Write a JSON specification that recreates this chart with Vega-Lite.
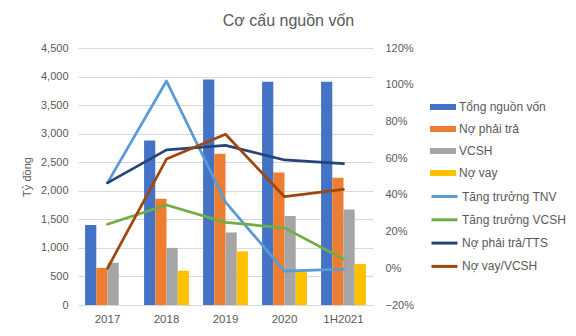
{
  "$schema": "https://vega.github.io/schema/vega-lite/v6.json",
  "width": 295,
  "height": 257,
  "autosize": {"type": "none"},
  "padding": {"left": 78, "top": 48, "right": 203, "bottom": 31},
  "background": "white",
  "title": {
    "text": "Cơ cấu nguồn vốn",
    "fontSize": 16,
    "font": "Liberation Sans",
    "fontWeight": "normal",
    "color": "#595959",
    "anchor": "middle",
    "frame": "group",
    "dx": 63,
    "baseline": "alphabetic",
    "offset": 0
  },
  "config": {
    "view": {"stroke": null},
    "font": "Liberation Sans",
    "axis": {"labelColor": "#595959", "titleColor": "#595959", "labelFont": "Liberation Sans", "titleFont": "Liberation Sans"},
    "legend": {"labelFont": "Liberation Sans"}
  },
  "datasets": {
    "bars": [
      {"year": "2017", "series": "Tổng nguồn vốn", "value": 1400},
      {"year": "2017", "series": "Nợ phải trả", "value": 650},
      {"year": "2017", "series": "VCSH", "value": 740},
      {"year": "2017", "series": "Nợ vay", "value": 0},
      {"year": "2018", "series": "Tổng nguồn vốn", "value": 2880},
      {"year": "2018", "series": "Nợ phải trả", "value": 1860},
      {"year": "2018", "series": "VCSH", "value": 1000},
      {"year": "2018", "series": "Nợ vay", "value": 600},
      {"year": "2019", "series": "Tổng nguồn vốn", "value": 3950},
      {"year": "2019", "series": "Nợ phải trả", "value": 2650},
      {"year": "2019", "series": "VCSH", "value": 1270},
      {"year": "2019", "series": "Nợ vay", "value": 940},
      {"year": "2020", "series": "Tổng nguồn vốn", "value": 3910},
      {"year": "2020", "series": "Nợ phải trả", "value": 2320},
      {"year": "2020", "series": "VCSH", "value": 1560},
      {"year": "2020", "series": "Nợ vay", "value": 610},
      {"year": "1H2021", "series": "Tổng nguồn vốn", "value": 3910},
      {"year": "1H2021", "series": "Nợ phải trả", "value": 2230},
      {"year": "1H2021", "series": "VCSH", "value": 1670},
      {"year": "1H2021", "series": "Nợ vay", "value": 720}
    ],
    "lines": [
      {"year": "2017", "series": "Tăng trưởng TNV", "value": 0.465},
      {"year": "2018", "series": "Tăng trưởng TNV", "value": 1.02},
      {"year": "2019", "series": "Tăng trưởng TNV", "value": 0.36},
      {"year": "2020", "series": "Tăng trưởng TNV", "value": -0.015},
      {"year": "1H2021", "series": "Tăng trưởng TNV", "value": -0.005},
      {"year": "2017", "series": "Tăng trưởng VCSH", "value": 0.24},
      {"year": "2018", "series": "Tăng trưởng VCSH", "value": 0.345},
      {"year": "2019", "series": "Tăng trưởng VCSH", "value": 0.25},
      {"year": "2020", "series": "Tăng trưởng VCSH", "value": 0.22},
      {"year": "1H2021", "series": "Tăng trưởng VCSH", "value": 0.05},
      {"year": "2017", "series": "Nợ phải trả/TTS", "value": 0.465},
      {"year": "2018", "series": "Nợ phải trả/TTS", "value": 0.645},
      {"year": "2019", "series": "Nợ phải trả/TTS", "value": 0.67},
      {"year": "2020", "series": "Nợ phải trả/TTS", "value": 0.59},
      {"year": "1H2021", "series": "Nợ phải trả/TTS", "value": 0.57},
      {"year": "2017", "series": "Nợ vay/VCSH", "value": 0.0},
      {"year": "2018", "series": "Nợ vay/VCSH", "value": 0.595},
      {"year": "2019", "series": "Nợ vay/VCSH", "value": 0.73},
      {"year": "2020", "series": "Nợ vay/VCSH", "value": 0.39},
      {"year": "1H2021", "series": "Nợ vay/VCSH", "value": 0.43}
    ]
  },
  "encoding": {
    "x": {
      "field": "year",
      "type": "nominal",
      "sort": ["2017", "2018", "2019", "2020", "1H2021"],
      "scale": {"paddingInner": 0.24, "paddingOuter": 0.12},
      "axis": {
        "title": null,
        "labelAngle": 0,
        "labelFontSize": 11.5,
        "labelPadding": 8,
        "ticks": false,
        "domainColor": "#D9D9D9",
        "domainWidth": 1
      }
    }
  },
  "layer": [
    {
      "data": {"name": "bars"},
      "mark": {"type": "bar"},
      "encoding": {
        "xOffset": {
          "field": "series",
          "type": "nominal",
          "sort": ["Tổng nguồn vốn", "Nợ phải trả", "VCSH", "Nợ vay"],
          "scale": {"paddingInner": 0, "paddingOuter": 0}
        },
        "y": {
          "field": "value",
          "type": "quantitative",
          "scale": {"domain": [0, 4500], "nice": false},
          "axis": {
            "title": "Tỷ đồng",
            "titleFontSize": 11,
            "titleFontWeight": "normal",
            "titlePadding": 8,
            "values": [0, 500, 1000, 1500, 2000, 2500, 3000, 3500, 4000, 4500],
            "format": ",.0f",
            "labelFontSize": 11,
            "labelPadding": 10,
            "ticks": false,
            "domain": false,
            "grid": true,
            "gridColor": "#D9D9D9",
            "gridWidth": 1
          }
        },
        "color": {
          "field": "series",
          "type": "nominal",
          "scale": {
            "domain": ["Tổng nguồn vốn", "Nợ phải trả", "VCSH", "Nợ vay"],
            "range": ["#4472C4", "#ED7D31", "#A5A5A5", "#FFC000"]
          },
          "legend": {
            "title": null,
            "orient": "none",
            "legendX": 352,
            "legendY": 46,
            "padding": 0,
            "symbolType": "M-1,-0.23H1V0.23H-1Z",
            "symbolSize": 676,
            "symbolStrokeWidth": 0,
            "labelFontSize": 12,
            "labelColor": "#595959",
            "labelOffset": 3,
            "rowPadding": 3
          }
        }
      }
    },
    {
      "data": {"name": "lines"},
      "mark": {"type": "line", "strokeWidth": 2.75, "strokeJoin": "round", "strokeCap": "round"},
      "encoding": {
        "x": {"field": "year", "type": "nominal", "sort": ["2017", "2018", "2019", "2020", "1H2021"], "bandPosition": 0.5},
        "y": {
          "field": "value",
          "type": "quantitative",
          "scale": {"domain": [-0.2, 1.2], "nice": false},
          "axis": {
            "title": null,
            "orient": "right",
            "values": [-0.2, 0, 0.2, 0.4, 0.6, 0.8, 1.0, 1.2],
            "format": ".0%",
            "labelFontSize": 11,
            "labelPadding": 12,
            "ticks": false,
            "domain": false,
            "grid": false
          }
        },
        "stroke": {
          "field": "series",
          "type": "nominal",
          "scale": {
            "domain": ["Tăng trưởng TNV", "Tăng trưởng VCSH", "Nợ phải trả/TTS", "Nợ vay/VCSH"],
            "range": ["#5B9BD5", "#70AD47", "#264478", "#9E480E"]
          },
          "legend": {
            "title": null,
            "orient": "none",
            "legendX": 352,
            "legendY": 134,
            "padding": 0,
            "symbolType": "stroke",
            "symbolSize": 676,
            "symbolStrokeWidth": 3,
            "labelFontSize": 12,
            "labelColor": "#595959",
            "labelOffset": 3,
            "rowPadding": 2.3
          }
        }
      }
    }
  ],
  "resolve": {"scale": {"y": "independent"}}
}
